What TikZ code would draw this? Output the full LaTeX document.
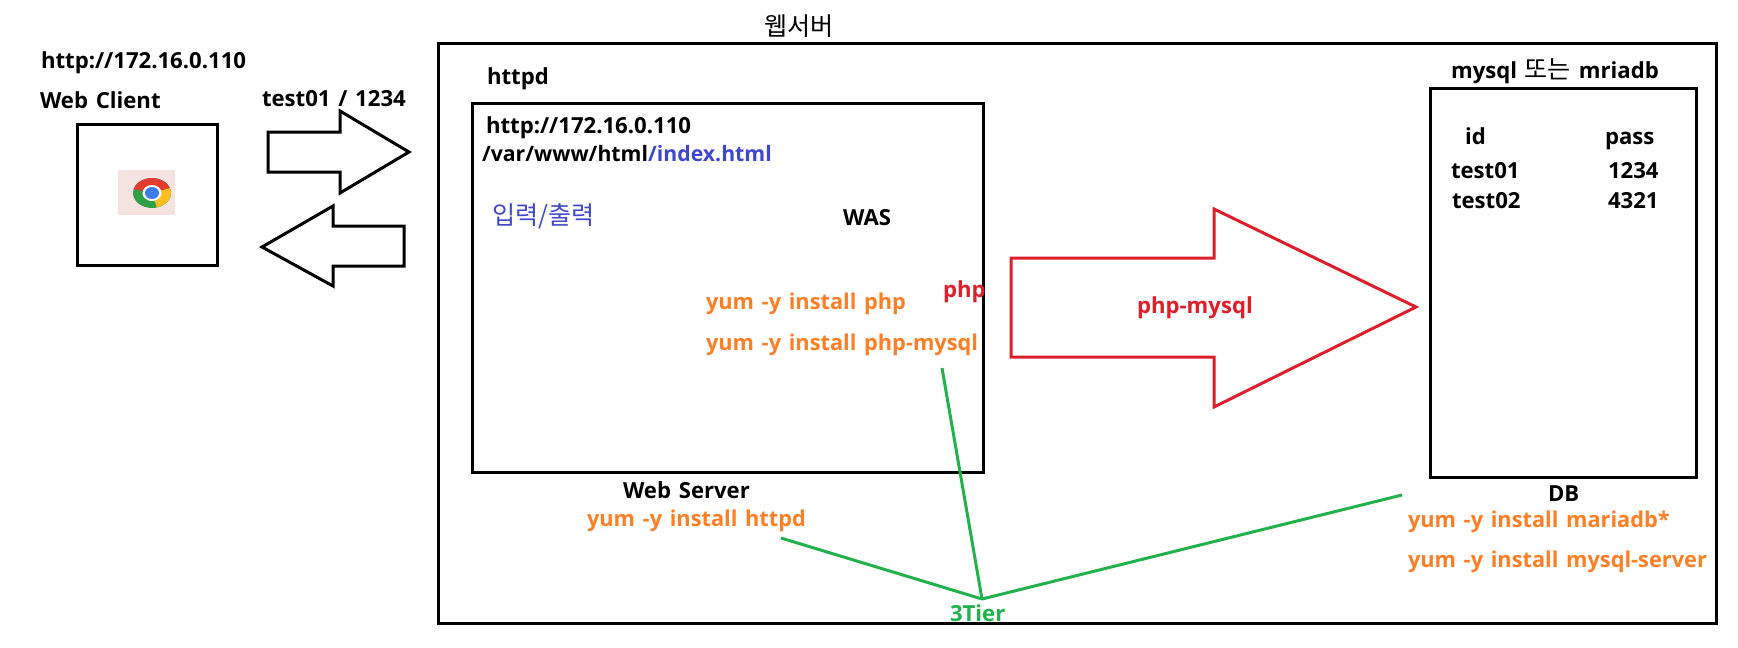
\documentclass[tikz,border=0pt]{standalone}
\usepackage{fontspec}
\setmainfont{Open Sans}[WordSpace=1.35]
\newfontfamily\krfont{Noto Sans CJK KR}
\usetikzlibrary{positioning}
\definecolor{paintred}{HTML}{DC1F2B}
\definecolor{paintgreen}{HTML}{22B14C}
\definecolor{paintorange}{HTML}{FF7F27}
\definecolor{paintblue}{HTML}{3F48CC}

\begin{document}
\begin{tikzpicture}[
    x=0.02cm, y=-0.02cm,
    box/.style={draw, line width=0.06cm, fill=white, inner sep=0pt},
    blockarrow/.style={draw=#1, line width=0.06cm, fill=white, miter limit=10},
    tierline/.style={draw=paintgreen, line width=0.06cm},
    txt/.style={font=\fontsize{12.6}{15}\selectfont\bfseries, anchor=base west, inner sep=0pt, outer sep=0pt},
    yum/.style={txt, font=\fontsize{12.4}{15}\selectfont\bfseries, text=paintorange},
    kor/.style={txt, font=\fontsize{14.3}{15}\selectfont\krfont},
]
\useasboundingbox (0,0) rectangle (1738,647);

% Web client
\node[box, minimum width=2.82cm, minimum height=2.84cm] (client) at (147.5,195) {};
\node[txt] (clienturl) at (41,68) {http://172.16.0.110};
\node[txt] (clientname) at (40,108) {Web Client};
\node[txt] (login) at (262,106) {test01 / 1234};

% Chrome icon
\fill[color={rgb,255:red,245;green,227;blue,225}] (118,170) rectangle (175,215);
\coordinate (chrome) at (152,193);
\fill[color={rgb,255:red,47;green,160;blue,72}] (chrome) ellipse [x radius=19, y radius=15];
\fill[color={rgb,255:red,250;green,190;blue,30}] (chrome) -- +(-285:19 and 15) arc[start angle=-285, end angle=-380, x radius=19, y radius=15] -- cycle;
\fill[color={rgb,255:red,226;green,60;blue,48}] (chrome) -- +(-165:19 and 15) arc[start angle=-165, end angle=-20, x radius=19, y radius=15] -- cycle;
\fill[white] (chrome) ellipse [x radius=9.5, y radius=8];
\fill[color={rgb,255:red,60;green,125;blue,235}] (chrome) ellipse [x radius=7, y radius=6];

% Request and response
\draw[blockarrow=black] (268,132) -- (340,132) -- (340,111) -- (409,152) -- (340,193) -- (340,172) -- (268,172) -- cycle;
\draw[blockarrow=black] (262,247) -- (333,206) -- (333,226) -- (404,226) -- (404,266) -- (333,266) -- (333,286) -- cycle;

% Web server frame
\node[box, minimum width=25.58cm, minimum height=11.62cm] (frame) at (1077.5,333.5) {};
\node[kor] (frametitle) at (764,35) {웹서버};

% httpd box
\node[box, minimum width=10.24cm, minimum height=7.4cm] (httpd) at (728,288) {};
\node[txt] (httpdname) at (487,84) {httpd};
\node[txt] (httpdurl) at (486,133) {http://172.16.0.110};
\node[txt, font=\fontsize{12.1}{15}\selectfont\bfseries] (docroot) at (482,161) {/var/www/html\textcolor{paintblue}{/index.html}};
\node[kor, text=paintblue] (inout) at (492,224) {입력/출력};
\node[txt] (was) at (843,225) {WAS};
\node[txt, text=paintred] (php) at (943,297) {php};
\node[yum] (yumphp) at (706,309) {yum -y install php};
\node[yum] (yumphpmysql) at (706,350) {yum -y install php-mysql};
\node[txt] (webserver) at (623,498) {Web Server};
\node[yum] (yumhttpd) at (587,526) {yum -y install httpd};

% php-mysql arrow
\draw[blockarrow=paintred] (1011,258) -- (1214,258) -- (1214,209) -- (1416,307) -- (1214,407) -- (1214,357) -- (1011,357) -- cycle;
\node[txt, text=paintred] (phpmysql) at (1137,313) {php-mysql};

% DB box
\node[box, minimum width=5.34cm, minimum height=7.8cm] (db) at (1563.5,283) {};
\node[txt] (dbname) at (1451,78) {mysql\ {\mdseries\krfont\fontsize{14.3}{15}\selectfont 또는}\ mriadb};
\node[txt] (idhead) at (1465,144) {id};
\node[txt] (passhead) at (1605,144) {pass};
\node[txt] (idone) at (1451,178) {test01};
\node[txt] (passone) at (1608,178) {1234};
\node[txt] (idtwo) at (1452,208) {test02};
\node[txt] (passtwo) at (1608,208) {4321};
\node[txt] (dblabel) at (1548,501) {DB};
\node[yum] (yummariadb) at (1408,527) {yum -y install mariadb*};
\node[yum] (yummysql) at (1408,567) {yum -y install mysql-server};

% 3Tier lines
\coordinate (tierhub) at (982,599);
\coordinate (tierweb) at (781,538);
\coordinate (tierwas) at (942,368);
\coordinate (tierdb) at (1402,495);
\draw[tierline] (tierweb) -- (tierhub);
\draw[tierline] (tierwas) -- (tierhub);
\draw[tierline] (tierdb) -- (tierhub);
\node[txt, text=paintgreen] (tier) at (950,621) {3Tier};

\end{tikzpicture}
\end{document}
